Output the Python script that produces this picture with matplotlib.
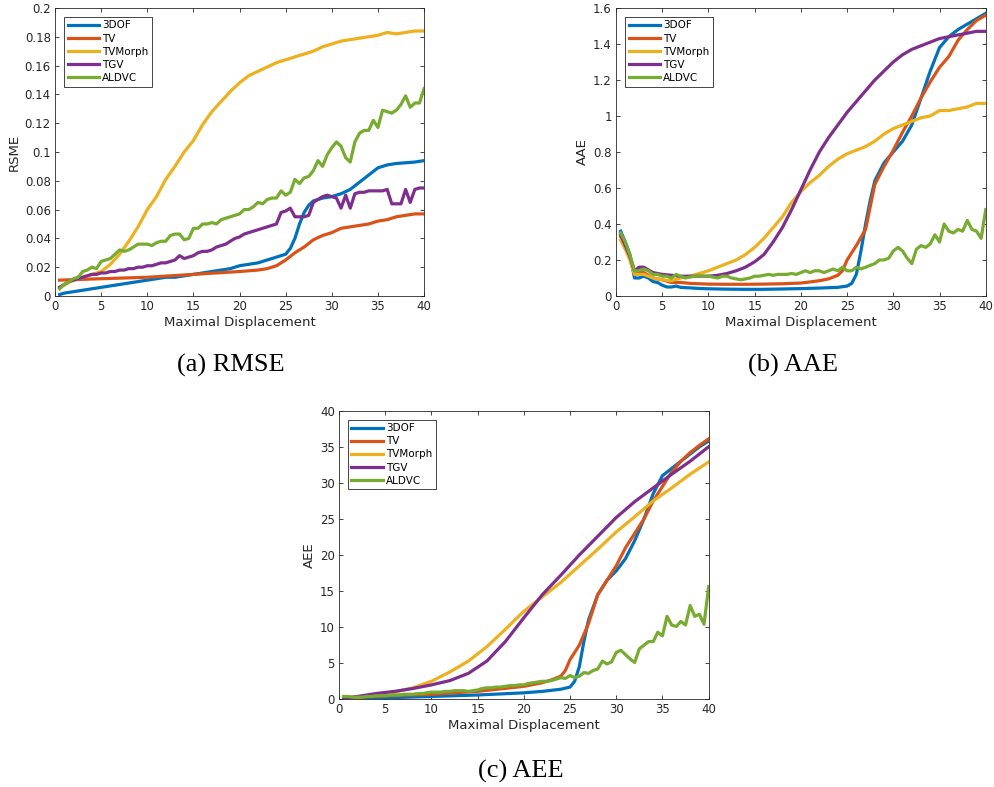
import matplotlib
matplotlib.use("Agg")
import matplotlib.pyplot as plt
import numpy as np

# method names and MATLAB default colours
names = ["3DOF", "TV", "TVMorph", "TGV", "ALDVC"]
colors = ["#0072BD", "#D95319", "#EDB120", "#7E2F8E", "#77AC30"]

# fine grid (0.5 step) used by the jagged curves
x_fine = np.arange(1, 81) * 0.5

# ---------------- (a) RMSE ----------------
x_rmse_3dof = [0.5, 1, 2, 3, 4, 5, 6, 7, 8, 9, 10, 11, 12, 13, 14, 15, 16, 17, 18, 19, 20,
               21, 22, 23, 24, 25, 25.5, 26, 26.5, 27, 27.5, 28, 29, 30, 31, 32, 33, 34, 35,
               36, 37, 38, 39, 40]
y_rmse_3dof = [0.001, 0.002, 0.003, 0.004, 0.005, 0.006, 0.007, 0.008, 0.009, 0.010, 0.011,
               0.012, 0.013, 0.013, 0.014, 0.015, 0.016, 0.017, 0.018, 0.019, 0.021, 0.022,
               0.023, 0.025, 0.027, 0.029, 0.033, 0.040, 0.050, 0.058, 0.063, 0.066, 0.068,
               0.069, 0.071, 0.074, 0.079, 0.084, 0.089, 0.091, 0.092, 0.0925, 0.093, 0.094]
x_rmse_tv = [0.5, 5, 10, 15, 20, 22, 23, 24, 25, 26, 27, 28, 29, 30, 31, 32, 33, 34, 35, 36,
             37, 38, 39, 40]
y_rmse_tv = [0.011, 0.012, 0.013, 0.015, 0.017, 0.018, 0.019, 0.021, 0.025, 0.030, 0.034,
             0.039, 0.042, 0.044, 0.047, 0.048, 0.049, 0.050, 0.052, 0.053, 0.055, 0.056,
             0.057, 0.057]
x_rmse_morph = [0.5, 2, 5, 6, 7, 8, 9, 10, 11, 12, 13, 14, 15, 16, 17, 18, 19, 20, 21, 22,
                23, 24, 25, 26, 27, 28, 29, 30, 31, 32, 33, 34, 35, 36, 37, 38, 39, 40]
y_rmse_morph = [0.006, 0.011, 0.017, 0.022, 0.029, 0.038, 0.048, 0.060, 0.069, 0.081, 0.090,
                0.100, 0.108, 0.119, 0.128, 0.135, 0.142, 0.148, 0.153, 0.156, 0.159, 0.162,
                0.164, 0.166, 0.168, 0.170, 0.173, 0.175, 0.177, 0.178, 0.179, 0.180, 0.181,
                0.183, 0.182, 0.183, 0.184, 0.184]
y_rmse_tgv = [0.006, 0.008, 0.010, 0.011, 0.012, 0.013, 0.014, 0.015, 0.015, 0.016, 0.016,
              0.017, 0.017, 0.018, 0.018, 0.019, 0.019, 0.020, 0.020, 0.021, 0.021, 0.022,
              0.023, 0.023, 0.024, 0.025, 0.028, 0.026, 0.027, 0.028, 0.030, 0.031, 0.031,
              0.032, 0.034, 0.035, 0.036, 0.038, 0.040, 0.041, 0.043, 0.044, 0.045, 0.046,
              0.047, 0.048, 0.049, 0.050, 0.058, 0.059, 0.061, 0.055, 0.055, 0.055, 0.056,
              0.065, 0.067, 0.069, 0.070, 0.069, 0.068, 0.061, 0.070, 0.061, 0.071, 0.072,
              0.072, 0.073, 0.073, 0.073, 0.073, 0.074, 0.064, 0.064, 0.064, 0.074, 0.065,
              0.074, 0.075, 0.075]
y_rmse_aldvc = [0.005, 0.008, 0.010, 0.012, 0.013, 0.017, 0.018, 0.020, 0.019, 0.024, 0.025,
                0.026, 0.029, 0.032, 0.031, 0.032, 0.034, 0.036, 0.036, 0.036, 0.035, 0.037,
                0.038, 0.038, 0.042, 0.043, 0.043, 0.039, 0.040, 0.047, 0.047, 0.050, 0.050,
                0.051, 0.050, 0.053, 0.054, 0.055, 0.056, 0.057, 0.060, 0.060, 0.062, 0.065,
                0.064, 0.067, 0.068, 0.068, 0.073, 0.070, 0.072, 0.081, 0.078, 0.082, 0.083,
                0.087, 0.094, 0.090, 0.098, 0.103, 0.107, 0.104, 0.096, 0.093, 0.107, 0.113,
                0.115, 0.115, 0.122, 0.117, 0.129, 0.128, 0.127, 0.129, 0.133, 0.139, 0.131,
                0.134, 0.134, 0.144]

# ---------------- (b) AAE ----------------
x_aae_3dof = [0.5, 1, 1.5, 2, 2.5, 3, 3.5, 4, 4.5, 5, 5.5, 6, 6.5, 7, 8, 9, 10, 12, 14, 16,
              18, 20, 22, 24, 25, 25.5, 26, 26.5, 27, 27.5, 28, 29, 30, 31, 32, 33, 34, 35,
              36, 37, 38, 39, 40]
y_aae_3dof = [0.36, 0.30, 0.23, 0.10, 0.10, 0.11, 0.10, 0.08, 0.075, 0.06, 0.05, 0.05, 0.055,
              0.048, 0.045, 0.042, 0.040, 0.038, 0.037, 0.037, 0.039, 0.041, 0.044, 0.048,
              0.055, 0.07, 0.12, 0.25, 0.40, 0.53, 0.64, 0.74, 0.80, 0.86, 0.95, 1.10, 1.25,
              1.38, 1.44, 1.48, 1.51, 1.54, 1.57]
x_aae_tv = [0.5, 1, 1.5, 2, 2.5, 3, 4, 5, 6, 7, 8, 9, 10, 12, 14, 16, 18, 20, 21, 22, 23, 24,
            24.5, 25, 26, 27, 28, 29, 30, 31, 32, 33, 34, 35, 36, 37, 38, 39, 40]
y_aae_tv = [0.33, 0.28, 0.22, 0.12, 0.13, 0.13, 0.10, 0.09, 0.075, 0.075, 0.07, 0.068, 0.066,
            0.065, 0.065, 0.066, 0.068, 0.072, 0.078, 0.085, 0.095, 0.115, 0.14, 0.20, 0.28,
            0.37, 0.62, 0.72, 0.81, 0.91, 1.00, 1.10, 1.19, 1.27, 1.33, 1.42, 1.48, 1.53, 1.56]
x_aae_morph = [0.5, 1, 1.5, 2, 3, 4, 5, 6, 7, 8, 9, 10, 11, 12, 13, 14, 15, 16, 17, 18, 19,
               20, 21, 22, 23, 24, 25, 26, 27, 28, 29, 30, 31, 32, 33, 34, 35, 36, 37, 38,
               39, 40]
y_aae_morph = [0.31, 0.26, 0.20, 0.12, 0.12, 0.10, 0.09, 0.085, 0.10, 0.11, 0.125, 0.14, 0.16,
               0.18, 0.20, 0.23, 0.27, 0.32, 0.38, 0.44, 0.52, 0.58, 0.63, 0.67, 0.72, 0.76,
               0.79, 0.81, 0.83, 0.86, 0.90, 0.93, 0.95, 0.97, 0.99, 1.00, 1.03, 1.03, 1.04,
               1.05, 1.07, 1.07]
x_aae_tgv = [0.5, 1, 1.5, 2, 2.5, 3, 4, 5, 6, 7, 8, 9, 10, 11, 12, 13, 14, 15, 16, 17, 18,
             19, 20, 21, 22, 23, 24, 25, 26, 27, 28, 29, 30, 31, 32, 33, 34, 35, 36, 37, 38,
             39, 40]
y_aae_tgv = [0.34, 0.28, 0.22, 0.14, 0.16, 0.16, 0.13, 0.12, 0.115, 0.11, 0.11, 0.11, 0.11,
             0.115, 0.125, 0.14, 0.16, 0.19, 0.23, 0.30, 0.38, 0.48, 0.59, 0.70, 0.80, 0.88,
             0.95, 1.02, 1.08, 1.14, 1.20, 1.25, 1.30, 1.34, 1.37, 1.39, 1.41, 1.43, 1.44,
             1.45, 1.46, 1.47, 1.47]
y_aae_aldvc = [0.35, 0.30, 0.23, 0.14, 0.14, 0.15, 0.14, 0.12, 0.12, 0.11, 0.11, 0.10, 0.12,
               0.11, 0.10, 0.105, 0.11, 0.11, 0.11, 0.11, 0.105, 0.10, 0.11, 0.11, 0.10, 0.095,
               0.09, 0.095, 0.10, 0.11, 0.11, 0.115, 0.12, 0.115, 0.12, 0.12, 0.12, 0.125,
               0.12, 0.13, 0.14, 0.13, 0.14, 0.14, 0.13, 0.14, 0.15, 0.14, 0.16, 0.14, 0.14,
               0.16, 0.15, 0.16, 0.17, 0.18, 0.20, 0.20, 0.21, 0.25, 0.27, 0.25, 0.21, 0.18,
               0.26, 0.28, 0.27, 0.29, 0.34, 0.30, 0.40, 0.36, 0.35, 0.37, 0.36, 0.42, 0.37,
               0.36, 0.32, 0.48]

# ---------------- (c) AEE ----------------
x_aee_3dof = [0.5, 2, 5, 10, 15, 20, 22, 24, 25, 25.5, 26, 26.5, 27, 28, 29, 30, 31, 32, 33,
              34, 35, 36, 37, 38, 39, 40]
y_aee_3dof = [0.2, 0.1, 0.2, 0.4, 0.6, 0.9, 1.1, 1.4, 1.7, 2.5, 4.5, 8.0, 11.0, 14.5, 16.5,
              17.8, 19.5, 22.0, 25.0, 28.5, 31.0, 32.0, 33.0, 34.0, 35.0, 35.8]
x_aee_tv = [0.5, 2, 5, 10, 15, 20, 22, 23, 24, 24.5, 25, 26, 27, 28, 29, 30, 31, 32, 33, 34,
            35, 36, 37, 38, 39, 40]
y_aee_tv = [0.2, 0.3, 0.5, 0.7, 1.1, 1.8, 2.3, 2.7, 3.2, 4.0, 5.5, 7.5, 10.5, 14.5, 16.5,
            18.5, 21.0, 23.0, 25.0, 27.5, 29.5, 31.5, 33.0, 34.2, 35.2, 36.1]
x_aee_morph = [0.5, 2, 4, 6, 8, 10, 12, 14, 16, 18, 20, 22, 24, 26, 28, 30, 32, 34, 36, 38, 40]
y_aee_morph = [0.1, 0.3, 0.6, 1.0, 1.6, 2.5, 3.8, 5.3, 7.3, 9.7, 12.2, 14.2, 16.2, 18.5, 20.8,
               23.2, 25.3, 27.5, 29.3, 31.2, 32.9]
x_aee_tgv = [0.5, 2, 4, 6, 8, 10, 12, 14, 16, 18, 20, 22, 24, 26, 28, 30, 32, 34, 36, 38, 40]
y_aee_tgv = [0.1, 0.4, 0.8, 1.1, 1.5, 2.0, 2.6, 3.6, 5.3, 8.0, 11.3, 14.5, 17.2, 20.0, 22.6,
             25.2, 27.4, 29.3, 31.2, 33.0, 35.0]
y_aee_aldvc = [0.4, 0.4, 0.3, 0.3, 0.3, 0.4, 0.4, 0.5, 0.5, 0.5, 0.6, 0.6, 0.6, 0.7, 0.7, 0.7,
               0.8, 0.8, 0.9, 1.0, 1.0, 1.0, 1.1, 1.1, 1.2, 1.2, 1.2, 1.1, 1.2, 1.3, 1.5, 1.6,
               1.6, 1.7, 1.7, 1.8, 1.9, 1.9, 2.0, 2.0, 2.2, 2.3, 2.4, 2.5, 2.5, 2.6, 2.8, 3.0,
               2.9, 3.3, 3.0, 3.2, 3.7, 3.6, 4.0, 4.2, 5.3, 4.9, 5.2, 6.5, 6.8, 6.2, 5.6, 5.1,
               7.0, 7.5, 8.0, 8.0, 9.3, 8.8, 11.5, 10.3, 10.1, 10.8, 10.3, 13.0, 11.5, 11.8,
               10.4, 15.6]

xticks = [0, 5, 10, 15, 20, 25, 30, 35, 40]
yticks_rmse = [0, 0.02, 0.04, 0.06, 0.08, 0.1, 0.12, 0.14, 0.16, 0.18, 0.2]
ytick_labels_rmse = ["0", "0.02", "0.04", "0.06", "0.08", "0.1", "0.12", "0.14", "0.16", "0.18", "0.2"]
yticks_aae = [0, 0.2, 0.4, 0.6, 0.8, 1.0, 1.2, 1.4, 1.6]
ytick_labels_aae = ["0", "0.2", "0.4", "0.6", "0.8", "1", "1.2", "1.4", "1.6"]
yticks_aee = [0, 5, 10, 15, 20, 25, 30, 35, 40]

panels = [
    dict(pos=[0.0553, 0.6239, 0.3709, 0.3660], ylabel="RSME", ylim=0.2,
         yticks=yticks_rmse, ylabels=ytick_labels_rmse, caption="(a) RMSE", cap_xy=(0.232, 0.528),
         series=[(x_rmse_3dof, y_rmse_3dof), (x_rmse_tv, y_rmse_tv),
                 (x_rmse_morph, y_rmse_morph), (x_fine, y_rmse_tgv), (x_fine, y_rmse_aldvc)]),
    dict(pos=[0.6191, 0.6239, 0.3716, 0.3660], ylabel="AAE", ylim=1.6,
         yticks=yticks_aae, ylabels=ytick_labels_aae, caption="(b) AAE", cap_xy=(0.797, 0.528),
         series=[(x_aae_3dof, y_aae_3dof), (x_aae_tv, y_aae_tv), (x_aae_morph, y_aae_morph),
                 (x_aae_tgv, y_aae_tgv), (x_fine, y_aae_aldvc)]),
    dict(pos=[0.3407, 0.1114, 0.3715, 0.3667], ylabel="AEE", ylim=40,
         yticks=yticks_aee, ylabels=[str(t) for t in yticks_aee], caption="(c) AEE",
         cap_xy=(0.523, 0.012),
         series=[(x_aee_3dof, y_aee_3dof), (x_aee_tv, y_aee_tv), (x_aee_morph, y_aee_morph),
                 (x_aee_tgv, y_aee_tgv), (x_fine, y_aee_aldvc)]),
]

fig = plt.figure(figsize=(9.95, 7.87), dpi=100)
axcol = "#262626"

for p in panels:
    ax = fig.add_axes(p["pos"])
    for (xs, ys), name, c in zip(p["series"], names, colors):
        ax.plot(xs, ys, color=c, lw=2.3, label=name)
    ax.set_xlim(0, 40)
    ax.set_ylim(0, p["ylim"])
    ax.set_xticks(xticks)
    ax.set_xticklabels([str(t) for t in xticks])
    ax.set_yticks(p["yticks"])
    ax.set_yticklabels(p["ylabels"])
    ax.tick_params(direction="in", top=True, right=True, length=3, width=0.6,
                   labelsize=8.5, colors=axcol, pad=3)
    for s in ax.spines.values():
        s.set_color(axcol)
        s.set_linewidth(0.6)
    ax.set_xlabel("Maximal Displacement", fontsize=9.5, color=axcol, labelpad=2)
    ax.set_ylabel(p["ylabel"], fontsize=9.5, color=axcol, labelpad=3)
    leg = ax.legend(loc="upper left", fontsize=7.5, handlelength=3.0, borderpad=0.35,
                    labelspacing=0.3, handletextpad=0.3, fancybox=False, framealpha=1,
                    edgecolor=axcol, borderaxespad=0.85)
    leg.get_frame().set_linewidth(0.6)
    fig.text(p["cap_xy"][0], p["cap_xy"][1], p["caption"], ha="center", va="baseline",
             fontsize=19, family="Liberation Serif")

fig.savefig("out.png", dpi=100)
